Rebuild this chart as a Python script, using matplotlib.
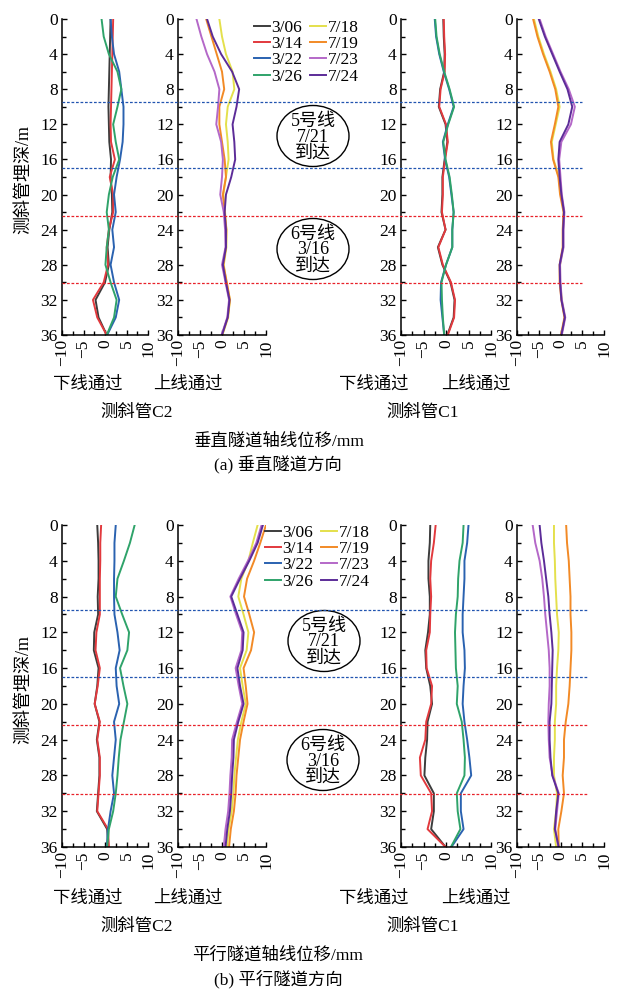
import numpy as np
import matplotlib
matplotlib.use('Agg')
import matplotlib.pyplot as plt
import matplotlib.transforms as mtransforms
from matplotlib.lines import Line2D
from matplotlib.patches import Ellipse
from matplotlib.ticker import MultipleLocator

plt.rcParams['font.family'] = ['Liberation Serif', 'Noto Sans CJK SC']
plt.rcParams['axes.unicode_minus'] = True

W, H = 621, 993

# depth of the inclinometer readings (m)
depth = np.arange(0, 37, 2)

dates_down = ['3/06', '3/14', '3/22', '3/26']
dates_up = ['7/18', '7/19', '7/23', '7/24']
colors_down = ['#3c3c3c', '#e2393d', '#2a62b0', '#2fa36a']
colors_up = ['#e4e04c', '#f28a26', '#b468c8', '#5c2c98']

# (a) displacement perpendicular to tunnel axis, mm
a_c2_down = [
    [1.3, 1.2, 1.1, 1.0, 0.9, 0.8, 0.9, 1.0, 1.4, 1.3, 1.6, 1.7, 1.0, 0.6, 0.9, 0.0, -2.2, -1.5, 0.4],
    [1.9, 1.8, 1.7, 1.6, 1.5, 1.4, 1.3, 1.4, 2.3, 1.1, 1.9, 1.9, 0.9, 0.4, 0.7, -0.3, -2.8, -1.8, 0.4],
    [1.3, 1.6, 2.1, 3.3, 3.8, 4.3, 4.3, 4.1, 3.5, 2.7, 2.1, 2.5, 1.7, 2.1, 1.3, 2.1, 3.3, 2.5, 0.5],
    [-0.8, -0.3, 0.9, 2.9, 3.8, 2.9, 1.9, 2.5, 3.3, 1.8, 0.9, 0.4, 0.9, 0.4, 0.1, 1.3, 2.7, 2.1, 0.4],
]
a_c2_up = [
    [-0.6, 0.0, 0.9, 2.4, 2.8, 1.3, 0.9, 1.3, 1.5, 0.9, 0.3, 0.7, 1.0, 1.0, 0.4, 1.0, 1.8, 1.4, 0.1],
    [-3.6, -2.4, -1.2, 0.0, 0.5, -0.6, -0.6, 0.0, 0.6, 0.9, 0.2, 0.6, 1.0, 0.9, 0.3, 1.1, 1.8, 1.3, 0.0],
    [-5.8, -4.7, -3.4, -1.7, -0.6, -0.9, -1.3, -0.2, 0.2, 0.0, -0.4, 0.4, 0.7, 0.8, 0.0, 0.8, 1.6, 1.2, -0.1],
    [-3.4, -2.1, -0.2, 2.3, 3.9, 3.3, 2.4, 2.8, 3.0, 2.1, 0.9, 0.6, 0.9, 0.9, 0.2, 0.9, 1.7, 1.3, 0.0],
]
a_c1_down = [
    [-0.6, -0.5, -0.3, -0.4, -1.3, -1.6, -0.1, 0.3, -0.3, -0.8, -0.8, -1.0, -0.1, -1.8, -0.8, 1.0, 1.9, 1.7, 0.3],
    [-0.5, -0.4, -0.2, -0.3, -1.2, -1.5, 0.0, 0.4, -0.2, -0.7, -0.7, -0.9, -0.1, -1.7, -0.7, 1.1, 2.0, 1.8, 0.4],
    [-2.5, -2.2, -1.5, -0.5, 0.7, 1.7, 0.4, -0.7, -0.2, 0.7, 1.2, 1.7, 1.4, 1.4, 0.0, -1.1, -1.2, -0.8, -0.4],
    [-2.4, -2.1, -1.4, -0.4, 0.8, 1.8, 0.5, -0.6, -0.1, 0.8, 1.3, 1.7, 1.4, 1.4, 0.0, -1.0, -0.9, -0.7, -0.4],
]
a_c1_up = [
    [-6.1, -5.1, -3.8, -2.3, -1.0, -0.2, -1.1, -2.0, -1.6, -0.4, 0.1, 0.8, 0.6, 0.6, -0.1, -0.1, 0.3, 1.0, 0.2],
    [-6.3, -5.3, -4.0, -2.5, -1.2, -0.5, -1.3, -2.2, -1.7, -0.5, -0.1, 0.7, 0.5, 0.5, -0.2, -0.2, 0.2, 0.9, 0.1],
    [-4.8, -3.4, -1.7, 0.0, 1.9, 3.3, 2.4, 0.2, -0.3, 0.0, 0.3, 0.9, 0.7, 0.7, -0.1, 0.0, 0.3, 1.1, 0.3],
    [-5.0, -3.6, -1.9, -0.2, 1.6, 2.7, 1.8, -0.2, -0.5, -0.2, 0.2, 0.8, 0.6, 0.6, -0.2, -0.1, 0.2, 1.0, 0.2],
]

# (b) displacement parallel to tunnel axis, mm
b_c2_down = [
    [-1.8, -1.6, -1.5, -1.5, -1.7, -1.6, -2.5, -2.6, -1.5, -1.8, -2.4, -1.3, -1.9, -1.3, -1.3, -1.6, -1.9, 0.5, 0.8],
    [-0.9, -1.1, -1.1, -1.2, -1.2, -1.2, -2.0, -2.2, -1.2, -1.7, -2.4, -1.2, -1.8, -1.2, -1.2, -1.5, -1.8, 0.7, 0.9],
    [2.5, 2.2, 2.2, 2.1, 2.1, 2.2, 2.9, 3.4, 2.5, 2.7, 3.3, 2.1, 2.5, 2.1, 1.7, 2.1, 1.3, 0.7, 0.4],
    [6.9, 5.8, 4.4, 2.9, 2.5, 4.0, 5.6, 5.2, 3.5, 4.3, 5.2, 4.4, 3.6, 3.2, 2.9, 2.5, 1.9, 0.9, 0.5],
]
b_c2_up = [
    [8.1, 7.0, 6.0, 4.4, 3.7, 4.9, 6.0, 5.6, 4.1, 4.7, 5.4, 4.4, 3.6, 3.2, 2.8, 2.6, 2.2, 1.5, 1.1],
    [10.0, 8.7, 7.3, 5.7, 5.0, 6.2, 7.3, 6.6, 4.9, 5.4, 5.8, 4.9, 4.1, 3.7, 3.3, 3.1, 2.7, 2.0, 1.6],
    [9.0, 7.8, 5.9, 3.8, 1.9, 3.2, 4.6, 4.4, 3.1, 3.8, 4.6, 3.4, 2.3, 2.2, 1.9, 1.7, 1.4, 0.8, 0.4],
    [9.3, 8.1, 6.2, 4.1, 2.1, 3.5, 4.9, 4.7, 3.5, 4.1, 4.9, 3.7, 2.7, 2.6, 2.3, 2.1, 1.8, 1.2, 0.8],
]
b_c1_down = [
    [-3.5, -3.6, -3.9, -3.9, -3.6, -3.6, -4.0, -4.6, -4.4, -3.5, -3.1, -4.1, -4.2, -4.6, -4.8, -2.7, -2.7, -3.3, -0.1],
    [-2.3, -2.7, -3.3, -3.5, -3.3, -3.5, -3.6, -4.4, -4.3, -3.1, -3.3, -4.4, -4.6, -5.8, -5.6, -3.3, -3.1, -4.1, -0.1],
    [5.0, 4.7, 4.1, 4.1, 3.9, 3.7, 3.7, 4.1, 4.2, 3.9, 3.7, 4.1, 4.7, 5.2, 5.6, 3.3, 3.3, 3.9, 1.2],
    [3.9, 3.7, 3.0, 2.7, 2.6, 2.2, 2.0, 2.1, 2.2, 2.6, 2.4, 3.5, 3.9, 4.2, 4.1, 2.4, 2.6, 3.2, 1.1],
]
b_c1_up = [
    [-1.5, -1.5, -1.3, -1.2, -1.0, -0.8, -0.4, -0.5, -0.8, -1.0, -1.0, -1.3, -1.3, -1.5, -1.5, -0.8, -1.0, -1.5, -1.0],
    [1.3, 1.5, 1.9, 2.1, 2.3, 2.3, 2.5, 2.5, 2.3, 2.1, 1.8, 1.2, 0.8, 0.8, 0.5, 0.8, 0.2, -0.5, -0.4],
    [-6.4, -5.8, -4.8, -4.2, -3.8, -3.5, -3.1, -2.7, -2.5, -2.5, -2.7, -2.8, -2.7, -2.5, -1.8, -0.4, -0.8, -1.2, -0.5],
    [-4.8, -4.4, -3.8, -3.3, -2.8, -2.5, -2.1, -1.8, -1.9, -2.0, -2.1, -2.5, -2.5, -2.3, -1.9, -0.5, -1.0, -1.3, -0.4],
]

# depth ranges where the new lines pass the pipes (m)
zone_line5 = [9.5, 17.0]
zone_line6 = [22.4, 30.1]

FS = 12.5


def frac(x, y):
    return x / W, 1 - y / H


def make_axes(left, top, width, height):
    ax = plt.gcf().add_axes([left / W, 1 - (top + height) / H, width / W, height / H])
    ax.set_xlim(-10, 10)
    ax.set_ylim(36, 0)
    ax.xaxis.set_major_locator(MultipleLocator(5))
    ax.xaxis.set_minor_locator(MultipleLocator(2.5))
    ax.yaxis.set_major_locator(MultipleLocator(4))
    ax.yaxis.set_minor_locator(MultipleLocator(2))
    for s in ['top', 'right']:
        ax.spines[s].set_visible(False)
    for s in ['left', 'bottom']:
        ax.spines[s].set_linewidth(1.1)
    ax.tick_params(which='both', direction='in', width=1.0, labelsize=FS)
    ax.tick_params(which='major', length=3.8)
    ax.tick_params(which='minor', length=2.8)
    ax.tick_params(axis='x', labelrotation=90, pad=3)
    ax.tick_params(axis='y', pad=3)
    ax.patch.set_alpha(0)
    return ax


def draw_panel(top, height, sets, legend_xy, circles, lines_end,
               under_y, xlabel, caption):
    fig = plt.gcf()
    lefts = [(62, 86), (178, 88), (401, 90), (517, 87)]
    axes = []
    for (left, width), (series, labels, cols) in zip(lefts, sets):
        ax = make_axes(left, top, width, height)
        for vals, lab, c in zip(series, labels, cols):
            ax.plot(vals, depth, color=c, lw=1.4, label=lab)
        axes.append(ax)

    # two-column legend: early dates on the left, later dates on the right
    hs = axes[0].get_lines()[:4] + axes[1].get_lines()[:4]
    fig.legend(hs, [h.get_label() for h in hs], ncol=2, frameon=False,
               loc='upper left', bbox_to_anchor=frac(*legend_xy),
               fontsize=FS, handlelength=0.9, handletextpad=0.1,
               columnspacing=0.45, labelspacing=0.0, borderpad=0,
               borderaxespad=0)

    trans = mtransforms.blended_transform_factory(fig.transFigure,
                                                  axes[0].transData)
    for d in zone_line5:
        fig.add_artist(Line2D([62 / W, lines_end / W], [d, d], transform=trans,
                              color='#2255b0', lw=0.9, ls=(0, (2.2, 1.4))))
    for d in zone_line6:
        fig.add_artist(Line2D([62 / W, lines_end / W], [d, d], transform=trans,
                              color='#e8222a', lw=0.9, ls=(0, (2.2, 1.4))))

    for (cx, cy, txt) in circles:
        fig.add_artist(Ellipse(frac(cx, cy), 72 / W, 61 / H,
                               transform=fig.transFigure,
                               fill=False, ec='black', lw=1.0))
        fig.text(*frac(cx, cy + 1), txt, ha='center', va='center',
                 fontsize=13, linespacing=0.92)

    fig.text(*frac(24, top + height / 2 + 3), '测斜管埋深/m', rotation=90,
             ha='center', va='center', fontsize=13)
    for x, t in [(88, '下线通过'), (188, '上线通过'), (374, '下线通过'), (476, '上线通过')]:
        fig.text(*frac(x, under_y), t, ha='center', va='center', fontsize=FS)
    fig.text(*frac(137, under_y + 28), '测斜管C2', ha='center', va='center', fontsize=FS)
    fig.text(*frac(423, under_y + 28), '测斜管C1', ha='center', va='center', fontsize=FS)
    fig.text(*frac(278, under_y + 57), xlabel, ha='center', va='center', fontsize=FS)
    fig.text(*frac(278, under_y + 80), caption, ha='center', va='center', fontsize=FS)


fig = plt.figure(figsize=(W / 100, H / 100), dpi=100)

draw_panel(19, 316,
           [(a_c2_down, dates_down, colors_down), (a_c2_up, dates_up, colors_up),
            (a_c1_down, dates_down, colors_down), (a_c1_up, dates_up, colors_up)],
           (254, 20),
           [(313, 136, '5号线\n7/21\n到达'), (313, 249, '6号线\n3/16\n到达')],
           582, 385, '垂直隧道轴线位移/mm', '(a) 垂直隧道方向')

draw_panel(525, 322,
           [(b_c2_down, dates_down, colors_down), (b_c2_up, dates_up, colors_up),
            (b_c1_down, dates_down, colors_down), (b_c1_up, dates_up, colors_up)],
           (265, 525),
           [(324, 641, '5号线\n7/21\n到达'), (323, 760, '6号线\n3/16\n到达')],
           588, 899, '平行隧道轴线位移/mm', '(b) 平行隧道方向')

fig.savefig('out.png', dpi=100)
